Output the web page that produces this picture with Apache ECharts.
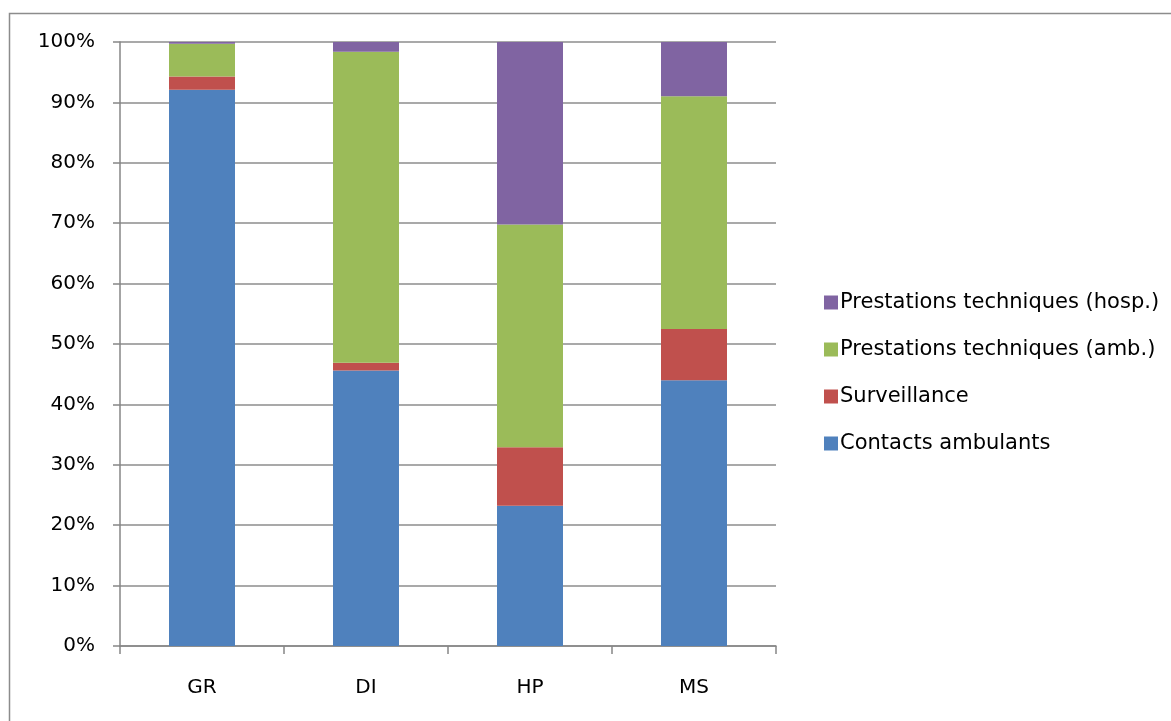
<!DOCTYPE html>
<html>
<head>
<meta charset="utf-8">
<script src="https://cdn.jsdelivr.net/npm/echarts@6/dist/echarts.min.js"></script>
<style>
  html, body { margin: 0; padding: 0; background: #fff; }
  #chart { width: 1171px; height: 721px; }
</style>
</head>
<body>
<div id="chart"></div>
<script>
// categories and stacked shares (%)
const categories = ['GR', 'DI', 'HP', 'MS'];
const contactsAmbulants = [92.1, 45.6, 23.2, 44.0];
const surveillance = [2.2, 1.3, 9.7, 8.5];
const prestAmb = [5.4, 51.5, 36.9, 38.5];
const prestHosp = [0.3, 1.6, 30.2, 9.0];

const seriesNames = ['Contacts ambulants', 'Surveillance', 'Prestations techniques (amb.)', 'Prestations techniques (hosp.)'];
const colors = ['#4F81BD', '#C0504D', '#9BBB59', '#8064A2'];
const values = [contactsAmbulants, surveillance, prestAmb, prestHosp];

const font = 'DejaVu Sans';
const chart = echarts.init(document.getElementById('chart'));

chart.setOption({
  animation: false,
  textStyle: { fontFamily: font },
  graphic: [{
    // outer frame: only top and left edges fall inside the picture
    type: 'rect',
    shape: { x: 9.5, y: 13.5, width: 1300, height: 800 },
    style: { fill: 'none', stroke: '#8c8c8c', lineWidth: 1.5 }
  }],
  grid: { left: 120, right: 395, top: 42, bottom: 75 },
  legend: {
    orient: 'vertical',
    left: 819,
    top: 287,
    itemWidth: 14,
    itemHeight: 14,
    itemGap: 26,
    icon: 'rect',
    data: seriesNames.slice().reverse(),
    textStyle: { fontFamily: font, fontSize: 21, color: '#000', padding: [0, 0, 0, -3] }
  },
  xAxis: {
    type: 'category',
    data: categories,
    axisLine: { lineStyle: { color: '#868686', width: 1.5 } },
    axisTick: { show: true, length: 8, lineStyle: { color: '#868686', width: 1.5 } },
    axisLabel: { margin: 32, fontSize: 20, color: '#000', fontFamily: font }
  },
  yAxis: {
    type: 'value',
    min: 0,
    max: 100,
    interval: 10,
    axisLine: { show: true, lineStyle: { color: '#868686', width: 1.5 } },
    axisTick: { show: true, length: 7, lineStyle: { color: '#868686', width: 1.5 } },
    axisLabel: { formatter: '{value}%', margin: 25, fontSize: 20, color: '#000', fontFamily: font },
    splitLine: { lineStyle: { color: '#8c8c8c', width: 1.5 } }
  },
  series: values.map((v, i) => ({
    name: seriesNames[i],
    type: 'bar',
    stack: 'total',
    barWidth: 66,
    data: v,
    itemStyle: { color: colors[i] }
  }))
});
</script>
</body>
</html>
